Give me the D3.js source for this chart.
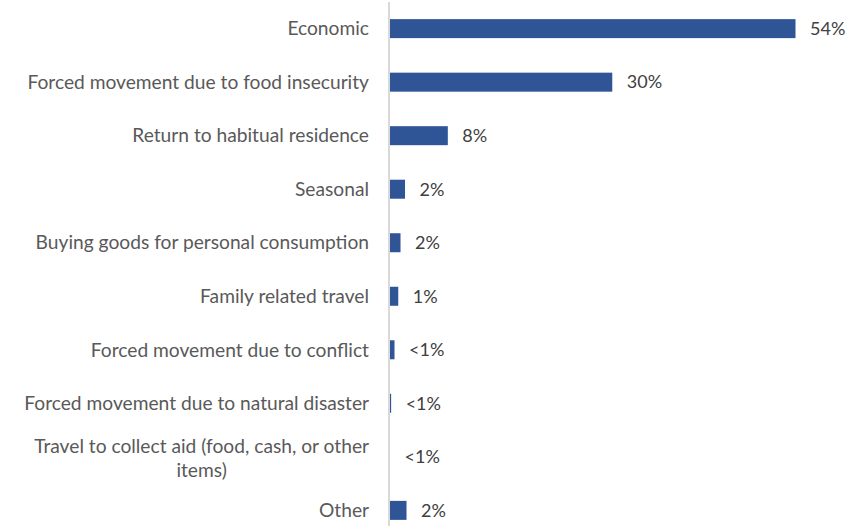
<!DOCTYPE html>
<html><head><meta charset="utf-8">
<script src="https://cdn.jsdelivr.net/npm/d3@7"></script>
<style>body{margin:0;background:#fff;}svg{display:block;}</style>
</head><body>
<script>
const categories = [
  ["Economic"],
  ["Forced movement due to food insecurity"],
  ["Return to habitual residence"],
  ["Seasonal"],
  ["Buying goods for personal consumption"],
  ["Family related travel"],
  ["Forced movement due to conflict"],
  ["Forced movement due to natural disaster"],
  ["Travel to collect aid (food, cash, or other", "items)"],
  ["Other"]
];
const values = [54, 29.6, 7.7, 2.0, 1.4, 1.1, 0.6, 0.15, 0, 2.2];
const valueLabels = ["54%", "30%", "8%", "2%", "2%", "1%", "<1%", "<1%", "<1%", "2%"];

const W = 863, H = 526;
const svg = d3.select("body").append("svg").attr("width", W).attr("height", H);
const x0 = 389.5;
const x = d3.scaleLinear().domain([0, 54]).range([x0, 795]);
const y = d3.scaleBand().domain(d3.range(categories.length)).range([2, 537]).paddingInner(0.645).paddingOuter(0.32);

svg.append("line").attr("x1", x0 - 0.5).attr("x2", x0 - 0.5).attr("y1", 2).attr("y2", H)
  .attr("stroke", "#d9d9d9").attr("stroke-width", 2);

svg.selectAll("rect.bar").data(values).join("rect").attr("class", "bar")
  .attr("x", x(0) + 0.5).attr("y", (d, i) => y(i))
  .attr("width", d => Math.max(0, x(d) - x(0)))
  .attr("height", y.bandwidth()).attr("fill", "#2F5597");

const font = "'Gill Sans MT','Gill Sans','Lato',sans-serif";
const fs = 19.2;
const lab = svg.selectAll("text.cat").data(categories).join("text").attr("class", "cat")
  .attr("font-family", font).attr("font-size", fs).attr("fill", "#595959")
  .attr("text-anchor", d => d.length > 1 ? "middle" : "end");
lab.each(function(d, i) {
  const t = d3.select(this);
  const cy = y(i) + y.bandwidth() / 2;
  if (d.length === 1) {
    t.attr("x", 369).attr("y", cy).attr("dy", "0.35em").text(d[0]);
  } else {
    const tmp = t.append("tspan").text(d[0]);
    const w = this.getComputedTextLength();
    tmp.remove();
    const cx = 369 - w / 2;
    d.forEach((line, k) => {
      t.append("tspan").attr("x", cx).attr("y", cy + 1 + (k - (d.length - 1) / 2) * 24).attr("dy", "0.35em").text(line);
    });
  }
});

svg.selectAll("text.val").data(values).join("text").attr("class", "val")
  .attr("font-family", font).attr("font-size", 18).attr("fill", "#404040")
  .attr("x", d => x(d) + 15).attr("y", (d, i) => y(i) + y.bandwidth() / 2).attr("dy", "0.35em")
  .text((d, i) => valueLabels[i]);
</script>
</body></html>
